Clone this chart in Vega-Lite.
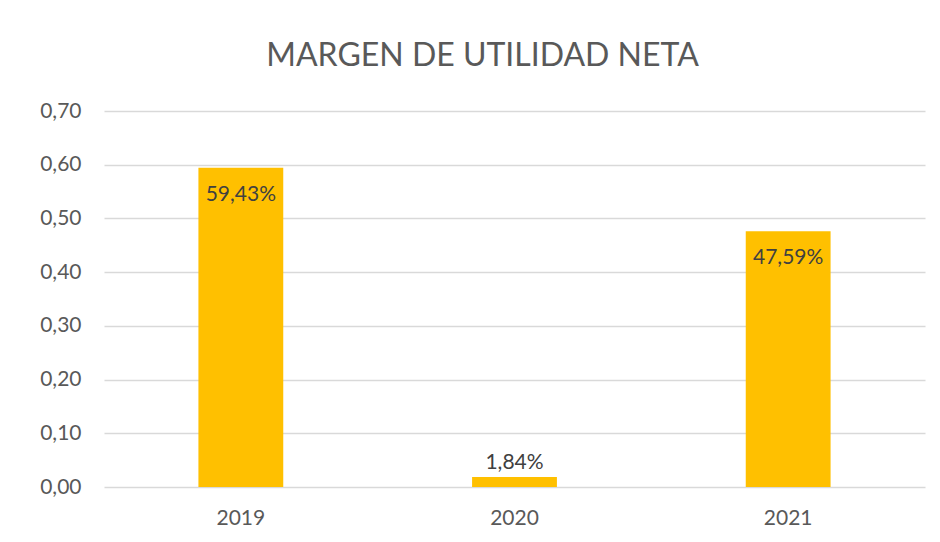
{
  "$schema": "https://vega.github.io/schema/vega-lite/v6.json",
  "autosize": "none",
  "width": 821,
  "height": 376,
  "padding": {"left": 104, "top": 111, "right": 15, "bottom": 55},
  "background": "white",
  "config": {
    "locale": {"number": {"decimal": ",", "thousands": ".", "grouping": [3], "currency": ["", " €"]}},
    "view": {"stroke": null},
    "font": "Lato"
  },
  "title": {
    "text": "MARGEN DE UTILIDAD NETA",
    "font": "Lato",
    "fontSize": 32,
    "fontWeight": "normal",
    "color": "#595959",
    "anchor": "middle",
    "dx": -32,
    "offset": 27
  },
  "data": {
    "values": [
      {"year": "2019", "value": 0.5943},
      {"year": "2020", "value": 0.0184},
      {"year": "2021", "value": 0.4759}
    ]
  },
  "encoding": {
    "x": {
      "field": "year",
      "type": "nominal",
      "scale": {"paddingInner": 0, "paddingOuter": 0},
      "axis": {
        "title": null,
        "labelAngle": 0,
        "labelFont": "Lato",
        "labelFontSize": 21,
        "labelColor": "#595959",
        "labelPadding": 20,
        "ticks": false,
        "domain": false,
        "grid": false
      }
    },
    "y": {
      "field": "value",
      "type": "quantitative",
      "scale": {"domain": [0, 0.7]},
      "axis": {
        "title": null,
        "format": ".2f",
        "values": [0, 0.1, 0.2, 0.3, 0.4, 0.5, 0.6, 0.7],
        "labelFont": "Lato",
        "labelFontSize": 21,
        "labelColor": "#595959",
        "labelPadding": 23,
        "ticks": false,
        "domain": false,
        "grid": true,
        "gridColor": "#D9D9D9",
        "gridWidth": 1.3
      }
    }
  },
  "layer": [
    {
      "mark": {"type": "bar", "color": "#FFC000", "width": {"band": 0.31}}
    },
    {
      "transform": [{"filter": "datum.value >= 0.1"}],
      "mark": {"type": "text", "baseline": "middle", "dy": 27, "font": "Lato", "fontSize": 21, "color": "#404040"},
      "encoding": {"text": {"field": "value", "type": "quantitative", "format": ".2%"}}
    },
    {
      "transform": [{"filter": "datum.value < 0.1"}],
      "mark": {"type": "text", "baseline": "middle", "dy": -14, "font": "Lato", "fontSize": 21, "color": "#404040"},
      "encoding": {"text": {"field": "value", "type": "quantitative", "format": ".2%"}}
    }
  ]
}
